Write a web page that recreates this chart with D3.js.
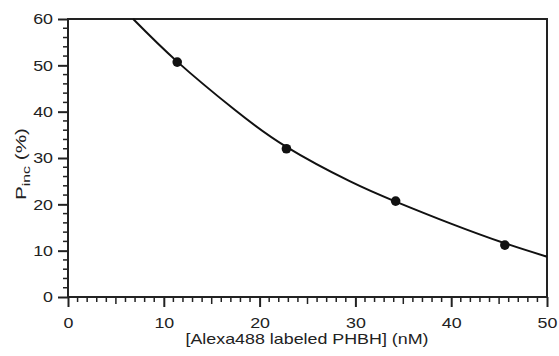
<!DOCTYPE html>
<html>
<head>
<meta charset="utf-8">
<script src="https://cdn.jsdelivr.net/npm/d3@7"></script>
<style>
  body { margin: 0; background: #fff; }
  text { font-family: "Liberation Sans", Arial, sans-serif; fill: #222; }
</style>
</head>
<body>
<div id="chart"></div>
<script>
// measured points
var pointConc = [11.4, 22.8, 34.2, 45.6];
var pointPinc = [50.7, 32.0, 20.7, 11.2];

// fitted curve
var curveConc = [6.8, 11.4, 17.4, 22.8, 29.4, 34.2, 39.9, 45.6, 50];
var curvePinc = [60, 50.8, 40.4, 32.4, 25.0, 20.6, 15.9, 11.6, 8.7];

var xTicks = [0, 10, 20, 30, 40, 50];
var yTicks = [0, 10, 20, 30, 40, 50, 60];

var W = 559, H = 356;
var margin = { top: 19, right: 12, bottom: 59, left: 68 };

var svg = d3.select("#chart").append("svg")
  .attr("width", W).attr("height", H);

var x = d3.scaleLinear().domain([0, 50]).range([margin.left, W - margin.right]);
var y = d3.scaleLinear().domain([0, 60]).range([H - margin.bottom, margin.top]);

// the original lettering is a bit wider than Arial
function stretch(sel, k) {
  sel.each(function() {
    var w = this.getComputedTextLength();
    d3.select(this).attr("textLength", w * k).attr("lengthAdjust", "spacingAndGlyphs");
  });
}

// minor ticks
var xMinor = d3.range(0, 51, 1).filter(function(v) { return v % 10 != 0; });
var yMinor = d3.range(0, 61, 2).filter(function(v) { return v % 10 != 0; });

svg.append("g").selectAll("line").data(xMinor).enter().append("line")
  .attr("x1", function(d) { return x(d); }).attr("x2", function(d) { return x(d); })
  .attr("y1", y(0)).attr("y2", function(d) { return y(0) + (d % 5 == 0 ? 7 : 5); })
  .attr("stroke", "#222").attr("stroke-width", 1.5);

svg.append("g").selectAll("line").data(yMinor).enter().append("line")
  .attr("y1", function(d) { return y(d); }).attr("y2", function(d) { return y(d); })
  .attr("x1", x(0)).attr("x2", x(0) - 5)
  .attr("stroke", "#222").attr("stroke-width", 1.5);

var xAxis = svg.append("g")
  .attr("transform", "translate(0," + y(0) + ")")
  .call(d3.axisBottom(x).tickValues(xTicks).tickSize(10).tickPadding(10));
var yAxis = svg.append("g")
  .attr("transform", "translate(" + x(0) + ",0)")
  .call(d3.axisLeft(y).tickValues(yTicks).tickSize(10).tickPadding(5));

[xAxis, yAxis].forEach(function(a) {
  a.select(".domain").remove();
  a.selectAll("line").attr("stroke", "#222").attr("stroke-width", 2);
  a.selectAll("text").style("font-size", "15.5px").attr("fill", "#333")
    .style("font-family", "'Liberation Sans', Arial, sans-serif");
  stretch(a.selectAll("text"), 1.15);
});

// frame
svg.append("rect")
  .attr("x", x(0)).attr("y", y(60))
  .attr("width", x(50) - x(0)).attr("height", y(0) - y(60))
  .attr("fill", "none").attr("stroke", "#222").attr("stroke-width", 2);

// curve
var curveData = curveConc.map(function(c, i) { return [c, curvePinc[i]]; });
svg.append("path")
  .datum(curveData)
  .attr("d", d3.line().curve(d3.curveNatural)
    .x(function(d) { return x(d[0]); })
    .y(function(d) { return y(d[1]); }))
  .attr("fill", "none").attr("stroke", "#111").attr("stroke-width", 2);

// points
svg.append("g").selectAll("circle").data(pointConc).enter().append("circle")
  .attr("cx", function(d) { return x(d); })
  .attr("cy", function(d, i) { return y(pointPinc[i]); })
  .attr("r", 4.8).attr("fill", "#111");

// axis titles
var xt = svg.append("text")
  .attr("x", 307).attr("y", 343.5)
  .attr("text-anchor", "middle").style("font-size", "14.5px").attr("fill", "#333")
  .text("[Alexa488 labeled PHBH] (nM)");
xt.attr("textLength", 243).attr("lengthAdjust", "spacingAndGlyphs");

var yt = svg.append("text")
  .attr("transform", "translate(26,164) rotate(-90)")
  .attr("text-anchor", "middle").style("font-size", "14.5px").attr("fill", "#333");
yt.append("tspan").text("P");
yt.append("tspan").attr("dy", 4).style("font-size", "11px").text("inc");
yt.append("tspan").attr("dy", -4).text(" (%)");
yt.attr("textLength", 72).attr("lengthAdjust", "spacingAndGlyphs");
</script>
</body>
</html>
